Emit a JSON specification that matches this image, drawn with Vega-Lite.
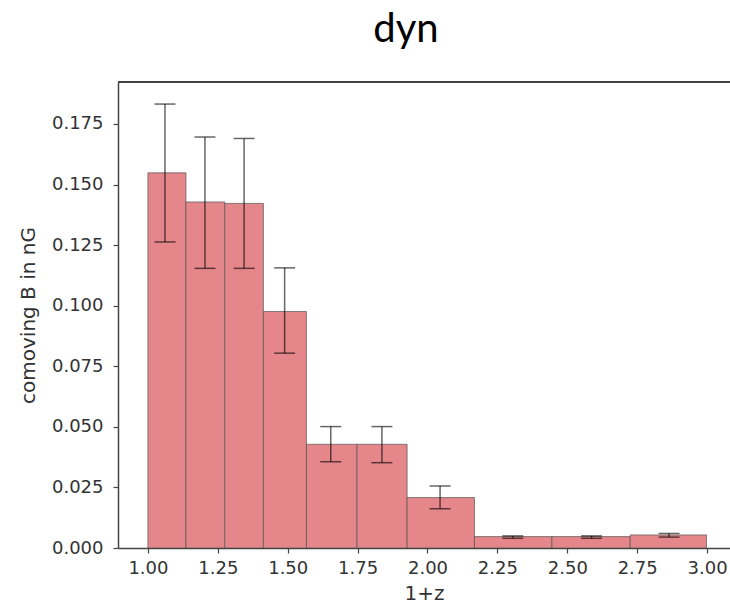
{
  "$schema": "https://vega.github.io/schema/vega-lite/v6.json",
  "autosize": {"type": "none"},
  "padding": {"left": 118, "top": 82, "right": 0, "bottom": 58},
  "width": 612,
  "height": 466,
  "background": "white",
  "title": {"text": "dyn", "font": "Lato", "fontSize": 40, "fontWeight": "normal", "color": "#000", "anchor": "middle", "dx": -18, "offset": 31},
  "config": {
    "view": {"stroke": null},
    "axis": {"grid": false, "labelFont": "DejaVu Sans", "labelFontSize": 18, "labelColor": "#333", "titleFont": "DejaVu Sans", "titleFontSize": 20, "titleFontWeight": "normal", "titleColor": "#333", "domainColor": "#444", "domainWidth": 1.5, "tickColor": "#444", "tickSize": 5, "tickWidth": 1.2}
  },
  "data": {"values": [
    {"x0": 1.0, "x1": 1.136, "value": 0.1548, "ex": 1.061, "lo": 0.1263, "hi": 0.1832},
    {"x0": 1.136, "x1": 1.275, "value": 0.1428, "ex": 1.204, "lo": 0.1154, "hi": 0.1696},
    {"x0": 1.275, "x1": 1.413, "value": 0.1422, "ex": 1.344, "lo": 0.1154, "hi": 0.1690},
    {"x0": 1.413, "x1": 1.567, "value": 0.0976, "ex": 1.489, "lo": 0.0804, "hi": 0.1156},
    {"x0": 1.567, "x1": 1.748, "value": 0.0428, "ex": 1.654, "lo": 0.0356, "hi": 0.0501},
    {"x0": 1.748, "x1": 1.927, "value": 0.0428, "ex": 1.837, "lo": 0.0352, "hi": 0.0501},
    {"x0": 1.927, "x1": 2.168, "value": 0.0208, "ex": 2.045, "lo": 0.0162, "hi": 0.0256},
    {"x0": 2.168, "x1": 2.445, "value": 0.0047, "ex": 2.305, "lo": 0.0040, "hi": 0.0050},
    {"x0": 2.445, "x1": 2.725, "value": 0.0047, "ex": 2.587, "lo": 0.0040, "hi": 0.0050},
    {"x0": 2.725, "x1": 2.998, "value": 0.0054, "ex": 2.864, "lo": 0.0045, "hi": 0.0060}
  ]},
  "layer": [
    {
      "mark": {"type": "bar", "fill": "#E5868A", "stroke": "#555", "strokeWidth": 1, "strokeOpacity": 0.7, "clip": true},
      "encoding": {
        "x": {"field": "x0", "type": "quantitative", "scale": {"domain": [0.893, 3.082], "nice": false, "zero": false}, "axis": {"values": [1, 1.25, 1.5, 1.75, 2, 2.25, 2.5, 2.75, 3], "format": ".2f", "title": "1+z", "labelPadding": 6, "titlePadding": 6}},
        "x2": {"field": "x1"},
        "y": {"field": "value", "type": "quantitative", "scale": {"domain": [0, 0.1923], "nice": false}, "axis": {"values": [0, 0.025, 0.05, 0.075, 0.1, 0.125, 0.15, 0.175], "format": ".3f", "title": "comoving B in nG", "labelPadding": 10, "titlePadding": 13}},
        "y2": {"datum": 0}
      }
    },
    {
      "mark": {"type": "rule", "color": "#444", "strokeWidth": 1.5},
      "encoding": {
        "y": {"datum": 0.1923, "type": "quantitative"}
      }
    },
    {
      "mark": {"type": "rule", "color": "#000", "opacity": 0.6, "strokeWidth": 1.5},
      "encoding": {
        "x": {"field": "ex", "type": "quantitative"},
        "y": {"field": "lo", "type": "quantitative"},
        "y2": {"field": "hi"}
      }
    },
    {
      "mark": {"type": "tick", "orient": "horizontal", "color": "#000", "opacity": 0.6, "size": 21, "thickness": 1.5},
      "encoding": {
        "x": {"field": "ex", "type": "quantitative"},
        "y": {"field": "hi", "type": "quantitative"}
      }
    },
    {
      "mark": {"type": "tick", "orient": "horizontal", "color": "#000", "opacity": 0.6, "size": 21, "thickness": 1.5},
      "encoding": {
        "x": {"field": "ex", "type": "quantitative"},
        "y": {"field": "lo", "type": "quantitative"}
      }
    }
  ]
}
